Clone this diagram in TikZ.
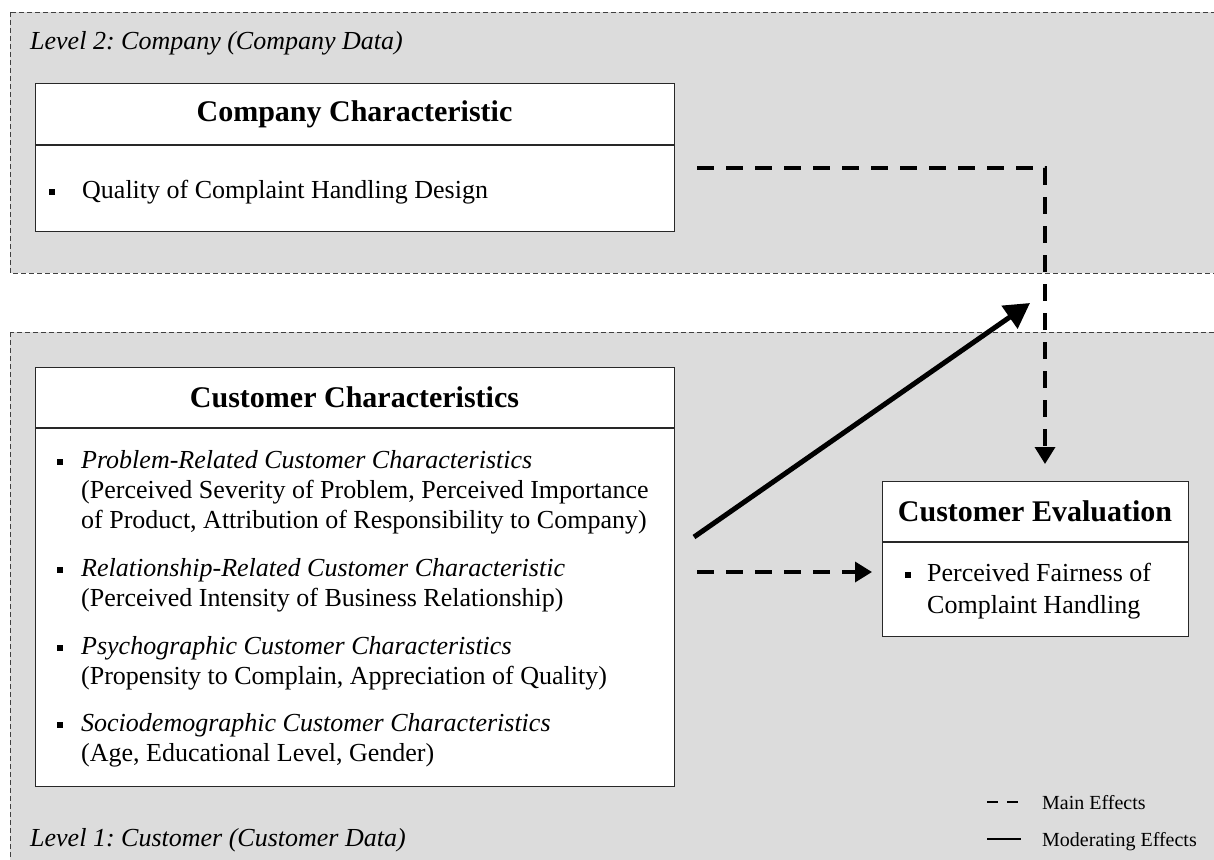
\documentclass[tikz,border=0pt]{standalone}
\usepackage{fontspec}
\setmainfont{Liberation Serif}
\usetikzlibrary{arrows.meta}
\frenchspacing
\definecolor{panelgray}{RGB}{220,220,220}
\definecolor{boxline}{RGB}{40,40,40}
\newcommand{\sqbul}{\rule[3pt]{6pt}{6pt}}
\begin{document}
\begin{tikzpicture}[x=1pt,y=-1pt,
  panel/.style={draw=black!75, fill=panelgray, line width=0.9pt, dash pattern=on 5pt off 3pt},
  box/.style={draw=boxline, fill=white, line width=1.3pt, anchor=north west, inner sep=0pt},
  sep/.style={draw=boxline, line width=1.3pt},
  title/.style={font=\fontsize{30}{34}\selectfont\bfseries, inner sep=0pt},
  item/.style={font=\fontsize{26}{30}\selectfont, anchor=base west, inner sep=0pt},
  levellabel/.style={font=\fontsize{26}{30}\selectfont\itshape, anchor=base west, inner sep=0pt},
  legendtext/.style={font=\fontsize{20}{24}\selectfont, anchor=base west, inner sep=0pt},
  mainfx/.style={line width=3.5pt, dash pattern=on 17pt off 12pt, -{Triangle[width=20pt,length=17pt]}},
  modfx/.style={line width=5pt, -{Triangle[width=27pt,length=25pt]}},
  legmain/.style={line width=2.5pt, dash pattern=on 11pt off 9pt},
  legmod/.style={line width=2.8pt}]
\useasboundingbox (0,0) rectangle (1214,859);
\clip (0,0) rectangle (1214,859);

% panels
\draw[panel] (10,12) rectangle (1240,273);
\draw[panel] (10,332) rectangle (1240,900);

\node[levellabel] (lv2) at (30,50) {Level 2: Company (Company Data)};
\node[levellabel] (lv1) at (30,846) {Level 1: Customer (Customer Data)};

% company box
\node[box, minimum width=639pt, minimum height=148pt] (cc) at (35,83) {};
\draw[sep] (35,145) -- (674,145);
\node[title] (cct) at (354.5,114) {Company Characteristic};
\node[item] (cci) at (49,198) {\begin{tabular}[t]{@{}l@{\hspace{27pt}}l@{}}\sqbul & Quality of Complaint Handling Design\end{tabular}};

% customer box
\node[box, minimum width=639pt, minimum height=419pt] (cu) at (35,367) {};
\draw[sep] (35,428) -- (674,428);
\node[title] (cut) at (354.5,397.5) {Customer Characteristics};
\node[item] (i1) at (57,468) {\begin{tabular}[t]{@{}l@{\hspace{18pt}}l@{}}\sqbul & \textit{Problem-Related Customer Characteristics}\\ & (Perceived Severity of Problem, Perceived Importance\\ & of Product, Attribution of Responsibility to Company)\end{tabular}};
\node[item] (i2) at (57,576) {\begin{tabular}[t]{@{}l@{\hspace{18pt}}l@{}}\sqbul & \textit{Relationship-Related Customer Characteristic}\\ & (Perceived Intensity of Business Relationship)\end{tabular}};
\node[item] (i3) at (57,654) {\begin{tabular}[t]{@{}l@{\hspace{18pt}}l@{}}\sqbul & \textit{Psychographic Customer Characteristics}\\ & (Propensity to Complain, Appreciation of Quality)\end{tabular}};
\node[item] (i4) at (57,731) {\begin{tabular}[t]{@{}l@{\hspace{18pt}}l@{}}\sqbul & \textit{Sociodemographic Customer Characteristics}\\ & (Age, Educational Level, Gender)\end{tabular}};

% customer evaluation box
\node[box, minimum width=306pt, minimum height=155pt] (ce) at (882,481) {};
\draw[sep] (882,542) -- (1188,542);
\node[title] (cet) at (1035,511.5) {Customer Evaluation};
\node[item] (cei) at (905,581) {\renewcommand{\arraystretch}{1.07}\begin{tabular}[t]{@{}l@{\hspace{16pt}}l@{}}\sqbul & Perceived Fairness of\\ & Complaint Handling\end{tabular}};

% connectors
\coordinate (m1s) at (697,168);
\coordinate (m1c) at (1045,168);
\coordinate (m1e) at (1045,464);
\coordinate (m2s) at (697,572);
\coordinate (m2e) at (872,572);
\coordinate (mods) at (694,537);
\coordinate (mode) at (1030,303);
\draw[mainfx] (m1s) -- (m1c) -- (m1e);
\draw[mainfx] (m2s) -- (m2e);
\draw[modfx] (mods) -- (mode);

% legend
\coordinate (lg1a) at (987,802);
\coordinate (lg1b) at (1018,802);
\coordinate (lg2a) at (987,839);
\coordinate (lg2b) at (1021,839);
\draw[legmain] (lg1a) -- (lg1b);
\draw[legmod] (lg2a) -- (lg2b);
\node[legendtext] (lgt1) at (1042,809) {Main Effects};
\node[legendtext] (lgt2) at (1042,846) {Moderating Effects};
\end{tikzpicture}
\end{document}
